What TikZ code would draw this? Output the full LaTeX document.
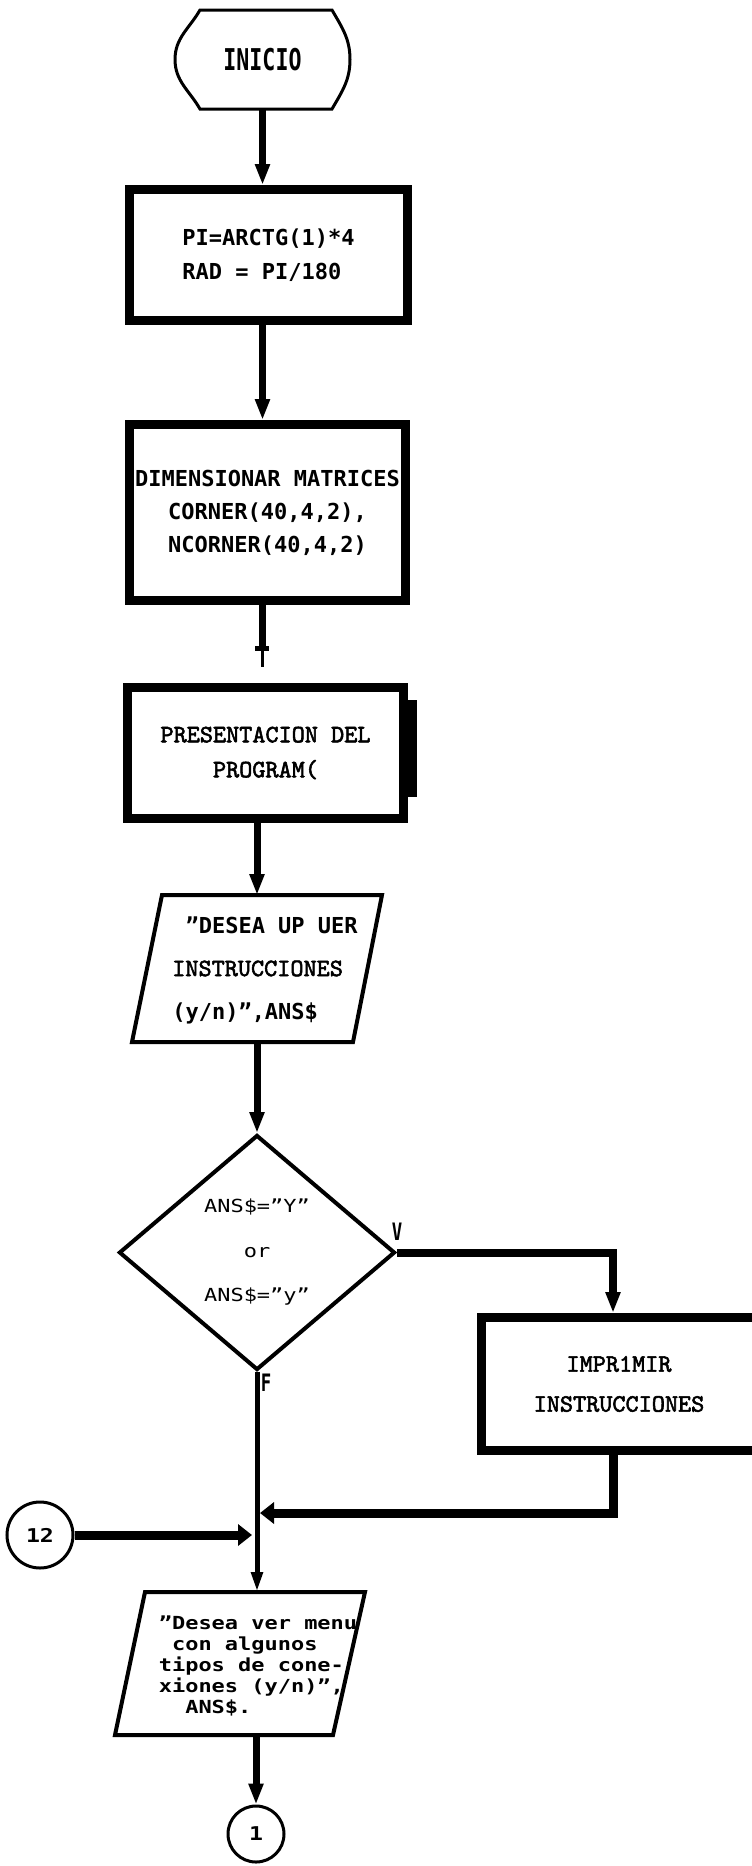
\documentclass[tikz,border=0pt]{standalone}
\usepackage{fontspec}
\usetikzlibrary{arrows.meta,shapes.geometric,calc}
% printer-like monospaced faces
\newfontfamily\fdot{DejaVu Sans Mono}
\newfontfamily\fdotwide[FakeStretch=1.22]{DejaVu Sans Mono}
\newfontfamily\fdottall[FakeStretch=0.72]{DejaVu Sans Mono}
\newfontfamily\fcour{lmmono10-regular}[Extension=.otf, FakeBold=2.2]
\begin{document}
\begin{tikzpicture}[x=1pt,y=-1pt,
  box/.style={draw, rectangle, line width=9pt, inner sep=0pt, align=center},
  shapeonly/.style={rectangle, inner sep=0pt, outer sep=0pt},
  ioline/.style={line width=4pt, line join=miter},
  vflow/.style={line width=7pt, -{Triangle[width=14pt,length=21pt]}},
  hflow/.style={line width=9pt, -{Triangle[width=21pt,length=14pt]}},
  conn/.style={draw, circle, line width=3pt, inner sep=0pt,
    font=\fontsize{19}{19}\selectfont\fdotwide\bfseries},
  lbl/.style={inner sep=0pt, font=\fontsize{24}{24}\selectfont\fdottall\bfseries},
  dottxt/.style={font=\fontsize{22}{34}\selectfont\fdot\bfseries},
  courtxt/.style={font=\fontsize{25}{35}\selectfont\fcour}]

\useasboundingbox (0,0) rectangle (752,1866);
\clip (0,0) rectangle (752,1866);
\fill[white] (0,0) rectangle (752,1866);

% start terminal
\node[shapeonly, minimum width=175pt, minimum height=99pt,
  font=\fontsize{30}{30}\selectfont\fdottall\bfseries] (inicio) at (262.5,59.5) {INICIO};
\draw[line width=3pt]
  ([xshift=25pt]inicio.north west) -- ([xshift=-18pt]inicio.north east)
  to[out=-60,in=90] (inicio.east)
  to[out=-90,in=60] ([xshift=-18pt]inicio.south east)
  -- ([xshift=25pt]inicio.south west)
  to[out=120,in=-90] (inicio.west)
  to[out=90,in=-120] ([xshift=25pt]inicio.north west) -- cycle;

% process boxes
\node[box, dottxt, align=left, minimum width=278pt, minimum height=131pt]
  (init) at (268.5,255) {PI=ARCTG(1)*4\\RAD = PI/180};
\node[box, dottxt, font=\fontsize{22}{33}\selectfont\fdot\bfseries,
  minimum width=276pt, minimum height=176pt]
  (dims) at (267.5,512.5) {DIMENSIONAR MATRICES\\CORNER(40,4,2),\\NCORNER(40,4,2)};
\node[box, courtxt, minimum width=276pt, minimum height=131pt]
  (pres) at (265.5,753) {PRESENTACION DEL\\PROGRAM(};
\fill ([yshift=53pt]pres.east) rectangle ([xshift=9pt,yshift=-44pt]pres.east);

% first input
\node[shapeonly, minimum width=250pt, minimum height=147pt] (in1) at (257,968.5) {};
\draw[ioline] ([xshift=30pt]in1.north west) -- (in1.north east)
  -- ([xshift=-29pt]in1.south east) -- (in1.south west) -- cycle;
\node[align=left, inner sep=0pt, font=\fontsize{22}{43}\selectfont\fdot\bfseries]
  (in1txt) at (265,970)
  {~”DESEA UP UER\\{\fontsize{25}{43}\selectfont\fcour INSTRUCCIONES}\\(y/n)”,ANS\$};

% decision
\node[draw, diamond, line width=4pt, inner sep=0pt, aspect=1.17,
  minimum width=276pt, minimum height=235pt,
  font=\fontsize{18}{44.5}\selectfont\fdotwide, align=center]
  (ask) at (257,1252.5) {ANS\$=”Y”\\or\\ANS\$=”y”};
\node[lbl] (lv) at (397,1232) {V};
\node[lbl] (lf) at (266,1383) {F};

% instructions printout
\node[box, courtxt, font=\fontsize{25}{40}\selectfont\fcour,
  minimum width=275pt, minimum height=133pt]
  (impr) at (619,1384) {IMPR1MIR\\INSTRUCCIONES};

% off-page connectors
\node[conn, minimum size=66pt] (c12) at (40,1535) {12};
\node[conn, minimum size=56pt] (c1) at (256,1834) {1};

% second input
\node[shapeonly, minimum width=250pt, minimum height=143pt] (in2) at (240,1663.5) {};
\draw[ioline] ([xshift=30pt]in2.north west) -- (in2.north east)
  -- ([xshift=-32pt]in2.south east) -- (in2.south west) -- cycle;
\node[align=left, inner sep=0pt, font=\fontsize{18}{21}\selectfont\fdotwide\bfseries]
  (in2txt) at (258,1666)
  {”Desea ver menu\\~con algunos\\tipos de cone-\\xiones (y/n)”,\\~~ANS\$.};

% junction points
\coordinate (tee) at (262,648);
\coordinate (teeend) at (262,667);
\coordinate (mergeR) at (260,1513);
\coordinate (mergeL) at (252,1535);

% connectors
\draw[vflow] (inicio.south) -- (inicio.south |- init.north);
\draw[vflow] (init.south -| inicio.south) -- (inicio.south |- dims.north);
\draw[line width=7pt] (dims.south -| tee) -- (tee);
\draw[line width=5pt] ([xshift=-7pt]tee) -- ([xshift=7pt]tee);
\draw[line width=3pt] (tee) -- (teeend);
\draw[vflow] (pres.south -| in1.north) -- (in1.north);
\draw[vflow] (in1.south) -- (ask.north);
\draw[vflow, line width=8pt] (ask.east) -| ([xshift=-6pt]impr.north);
\draw[hflow] ([xshift=-6pt]impr.south) |- (mergeR);
\draw[hflow] (c12.east) -- (mergeL);
\draw[line width=5pt, -{Triangle[width=11pt,length=20pt]}]
  (ask.south) -- (ask.south |- in2.north);
\draw[vflow] (c1.north |- in2.south) -- (c1.north);
\end{tikzpicture}
\end{document}
